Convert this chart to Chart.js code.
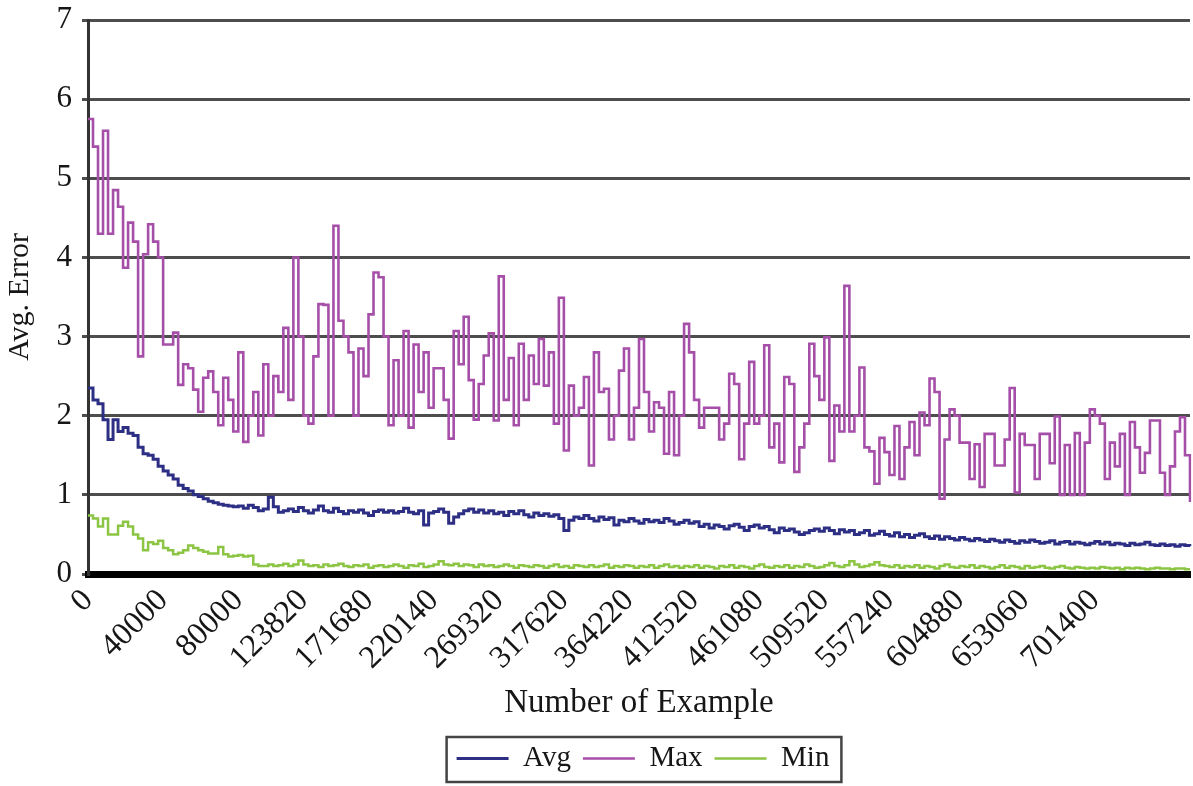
<!DOCTYPE html>
<html>
<head>
<meta charset="utf-8">
<script src="https://cdn.jsdelivr.net/npm/chart.js@4.4.0/dist/chart.umd.min.js"></script>
<style>
  html, body { margin: 0; padding: 0; background: #fff; }
  canvas { display: block; }
</style>
</head>
<body>
<canvas id="errChart" width="1193" height="786"></canvas>
<script>
// ---------- data ----------
const tickLabels = ['0','40000','80000','123820','171680','220140','269320','317620',
                    '364220','412520','461080','509520','557240','604880','653060','701400'];
const tickIndex  = [0,15,30,43,56,69,82,95,108,121,134,147,160,174,187,201];
const yTicks = [0,1,2,3,4,5,6,7];

const avgErr = [
  2.35,2.2,2.15,1.95,1.7,1.95,1.8,1.85,1.78,1.75,
  1.6,1.52,1.5,1.45,1.36,1.3,1.25,1.2,1.12,1.08,
  1.05,1.0,0.98,0.95,0.92,0.9,0.88,0.87,0.86,0.85,
  0.86,0.83,0.87,0.84,0.8,0.82,0.97,0.85,0.78,0.8,
  0.82,0.79,0.84,0.8,0.77,0.81,0.86,0.8,0.78,0.83,
  0.79,0.76,0.8,0.78,0.81,0.77,0.74,0.79,0.81,0.78,
  0.8,0.77,0.79,0.83,0.78,0.76,0.8,0.62,0.77,0.79,
  0.82,0.78,0.64,0.72,0.76,0.8,0.82,0.78,0.81,0.77,
  0.8,0.76,0.78,0.74,0.79,0.76,0.8,0.75,0.72,0.77,
  0.74,0.76,0.73,0.75,0.7,0.55,0.68,0.72,0.7,0.74,
  0.7,0.67,0.72,0.69,0.71,0.62,0.68,0.66,0.7,0.67,
  0.64,0.69,0.66,0.68,0.65,0.7,0.67,0.63,0.65,0.68,
  0.64,0.66,0.6,0.63,0.58,0.62,0.6,0.57,0.61,0.63,
  0.59,0.55,0.6,0.62,0.58,0.6,0.56,0.52,0.58,0.55,
  0.57,0.53,0.5,0.52,0.55,0.57,0.54,0.58,0.55,0.51,
  0.56,0.53,0.55,0.5,0.52,0.55,0.49,0.51,0.54,0.5,
  0.48,0.52,0.47,0.5,0.46,0.49,0.51,0.47,0.45,0.48,
  0.44,0.47,0.45,0.43,0.46,0.44,0.42,0.45,0.43,0.41,
  0.44,0.42,0.4,0.43,0.41,0.39,0.42,0.4,0.43,0.41,
  0.39,0.4,0.42,0.38,0.4,0.41,0.38,0.4,0.39,0.37,
  0.39,0.41,0.38,0.4,0.37,0.39,0.38,0.36,0.39,0.37,
  0.38,0.4,0.37,0.36,0.38,0.36,0.37,0.35,0.37,0.36,0.35
];

const maxErr = [
  5.75,5.4,4.3,5.6,4.3,4.85,4.64,3.87,4.44,4.2,
  2.75,4.04,4.42,4.2,4.0,2.9,2.9,3.05,2.39,2.65,
  2.6,2.33,2.05,2.48,2.56,2.3,1.88,2.48,2.2,1.8,
  2.8,1.67,2.0,2.3,1.75,2.65,2.0,2.5,2.3,3.11,
  2.2,4.0,3.0,2.0,1.9,2.75,3.41,3.4,2.0,4.4,
  3.2,3.0,2.8,2.0,2.85,2.5,3.28,3.81,3.75,3.0,
  1.88,2.7,2.0,3.07,1.85,2.9,2.3,2.8,2.1,2.6,
  2.6,2.2,1.71,3.07,2.65,3.25,2.45,1.95,2.4,2.76,
  3.04,1.94,3.76,2.2,2.73,1.88,2.91,2.2,2.76,2.4,
  2.97,2.38,2.8,1.9,3.49,1.56,2.38,2.0,2.1,2.49,
  1.37,2.8,2.3,2.34,1.7,2.0,2.57,2.85,1.7,2.1,
  2.97,2.3,1.8,2.17,2.1,1.52,2.3,1.5,2.0,3.16,
  2.8,2.2,1.85,2.1,2.1,2.1,1.7,1.9,2.53,2.4,
  1.45,1.9,2.68,1.9,2.0,2.89,1.6,1.9,1.41,2.49,
  2.4,1.29,1.6,1.9,2.91,2.5,2.2,2.99,1.43,2.13,
  1.8,3.64,1.8,2.0,2.61,1.6,1.55,1.14,1.72,1.54,
  1.25,1.87,1.2,1.6,1.92,1.5,2.04,1.88,2.47,2.3,
  0.95,1.7,2.08,2.0,1.66,1.66,1.2,1.64,1.1,1.77,
  1.77,1.37,1.37,1.7,2.35,1.03,1.77,1.63,1.63,1.2,
  1.77,1.77,1.4,1.99,1.0,1.63,1.0,1.78,1.0,1.66,
  2.08,2.0,1.9,1.2,1.66,1.36,1.77,1.0,1.92,1.6,
  1.28,1.53,1.94,1.94,1.28,1.0,1.36,1.8,1.98,1.5,0.91
];

const minErr = [
  0.74,0.7,0.6,0.7,0.5,0.5,0.61,0.66,0.6,0.5,
  0.45,0.3,0.4,0.38,0.42,0.33,0.3,0.25,0.27,0.3,
  0.36,0.33,0.3,0.28,0.26,0.26,0.34,0.25,0.22,0.23,
  0.24,0.22,0.23,0.12,0.1,0.1,0.12,0.1,0.11,0.13,
  0.1,0.12,0.17,0.12,0.1,0.11,0.09,0.12,0.1,0.11,
  0.13,0.1,0.09,0.11,0.1,0.12,0.08,0.1,0.11,0.09,
  0.1,0.12,0.1,0.08,0.11,0.1,0.13,0.09,0.1,0.12,
  0.16,0.12,0.11,0.13,0.1,0.12,0.11,0.09,0.12,0.1,
  0.11,0.09,0.1,0.12,0.1,0.08,0.11,0.1,0.09,0.11,
  0.1,0.08,0.1,0.12,0.09,0.1,0.08,0.11,0.1,0.09,
  0.11,0.09,0.1,0.12,0.08,0.1,0.09,0.11,0.1,0.08,
  0.1,0.09,0.11,0.08,0.1,0.12,0.09,0.1,0.08,0.1,
  0.09,0.11,0.08,0.1,0.09,0.07,0.1,0.09,0.11,0.08,
  0.1,0.09,0.07,0.1,0.12,0.09,0.08,0.1,0.09,0.11,
  0.08,0.1,0.09,0.12,0.1,0.08,0.09,0.11,0.14,0.1,
  0.09,0.11,0.16,0.12,0.09,0.1,0.12,0.15,0.11,0.1,
  0.09,0.11,0.08,0.1,0.09,0.11,0.08,0.1,0.09,0.07,
  0.1,0.12,0.09,0.08,0.1,0.09,0.11,0.08,0.1,0.09,
  0.07,0.09,0.11,0.08,0.1,0.09,0.07,0.1,0.08,0.09,
  0.1,0.08,0.07,0.09,0.1,0.08,0.07,0.09,0.08,0.07,
  0.08,0.07,0.09,0.08,0.07,0.08,0.06,0.08,0.07,0.08,
  0.07,0.06,0.07,0.08,0.07,0.07,0.06,0.07,0.07,0.06,0.06
];

// category labels: only some categories carry a visible label
const categories = maxErr.map((_, i) => {
    const k = tickIndex.indexOf(i);
    return k < 0 ? '' : tickLabels[k];
});

const serif = "'Liberation Serif', 'Times New Roman', serif";
const textColor = '#161616';
const legendShift = 48;   // legend sits right of centre in the original

// moves the legend and draws a frame round its items
const legendFrame = {
    id: 'legendFrame',
    afterLayout(chart) {
        const lg = chart.legend;
        if (!lg) return;
        lg.left += legendShift;
        lg.right += legendShift;
        (lg.legendHitBoxes || []).forEach(b => { b.left += legendShift; });
    },
    afterDraw(chart) {
        const lg = chart.legend;
        if (!lg || !lg.legendHitBoxes || !lg.legendHitBoxes.length) return;
        const boxes = lg.legendHitBoxes;
        const left = Math.min(...boxes.map(b => b.left)) - 10;
        const right = Math.max(...boxes.map(b => b.left + b.width)) + 12;
        const c = chart.ctx;
        c.save();
        c.strokeStyle = '#444';
        c.lineWidth = 2.5;
        c.strokeRect(left, lg.top + 5, right - left, lg.height - 6);
        c.restore();
    }
};

new Chart(document.getElementById('errChart'), {
    type: 'line',
    data: {
        labels: categories,
        datasets: [
            {
                label: 'Avg',
                data: avgErr,
                borderColor: '#2d2f84',
                borderWidth: 3,
                stepped: true,
                pointRadius: 0
            },
            {
                label: 'Max',
                data: maxErr,
                borderColor: '#a54fa9',
                borderWidth: 2.6,
                stepped: true,
                pointRadius: 0
            },
            {
                label: 'Min',
                data: minErr,
                borderColor: '#8cc544',
                borderWidth: 2.5,
                stepped: true,
                pointRadius: 0
            }
        ]
    },
    options: {
        responsive: false,
        animation: false,
        devicePixelRatio: 1,
        layout: { padding: { top: 20, right: 3, left: 0, bottom: 3 } },
        plugins: {
            tooltip: { enabled: false },
            legend: {
                position: 'bottom',
                labels: {
                    usePointStyle: true,
                    pointStyleWidth: 52,
                    pointStyle: 'line',
                    padding: 12,
                    color: textColor,
                    font: { family: serif, size: 29 }
                }
            }
        },
        scales: {
            x: {
                afterFit: s => { s.height = 158; s.paddingRight = 0; },
                grid: { display: false, drawTicks: false },
                border: { display: true, color: '#000', width: 7 },
                ticks: {
                    autoSkip: false,
                    minRotation: 45,
                    maxRotation: 45,
                    padding: 8,
                    color: textColor,
                    font: { family: serif, size: 32 }
                },
                title: {
                    display: true,
                    text: 'Number of Example',
                    color: textColor,
                    font: { family: serif, size: 33 },
                    padding: { top: 0, bottom: 9 }
                }
            },
            y: {
                min: 0,
                max: 7,
                afterFit: s => { s.width = 88; s.paddingTop = 0; s.paddingBottom = 0; },
                afterBuildTicks: s => { s.ticks = yTicks.map(v => ({ value: v })); },
                grid: {
                    color: '#4d4d4d',
                    lineWidth: 3,
                    drawTicks: true,
                    tickLength: 6,
                    tickColor: '#4d4d4d'
                },
                border: { display: true, color: '#333', width: 3 },
                ticks: {
                    padding: 10,
                    color: textColor,
                    font: { family: serif, size: 31 }
                },
                title: {
                    display: true,
                    text: 'Avg. Error',
                    color: textColor,
                    font: { family: serif, size: 30 },
                    padding: { top: 2, bottom: 0 }
                }
            }
        }
    },
    plugins: [legendFrame]
});
</script>
</body>
</html>
